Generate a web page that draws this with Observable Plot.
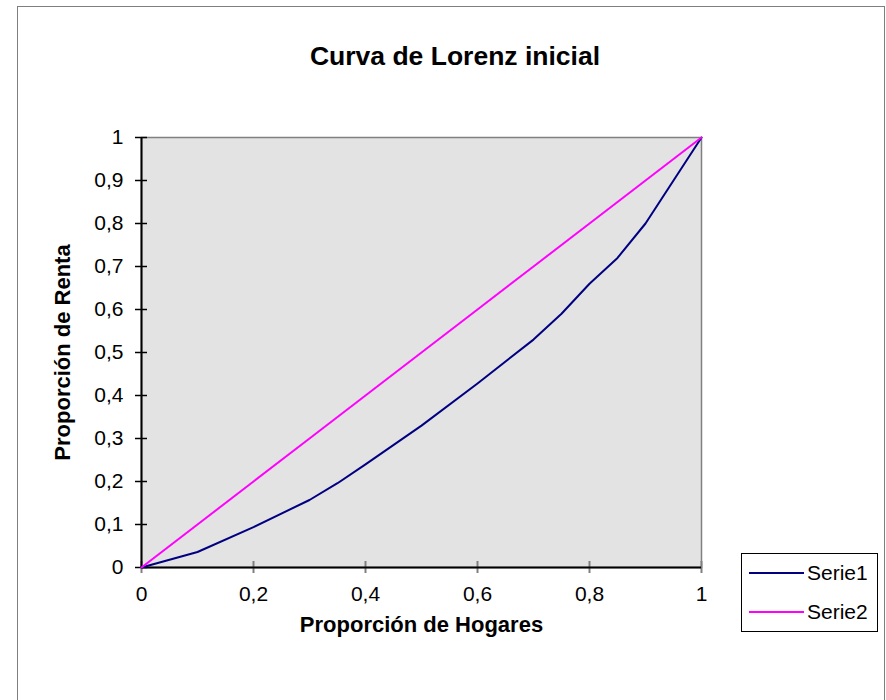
<!DOCTYPE html>
<html>
<head>
<meta charset="utf-8">
<script src="https://cdn.jsdelivr.net/npm/d3@7"></script>
<script src="https://cdn.jsdelivr.net/npm/@observablehq/plot@0.6"></script>
<style>
  body { margin: 0; background: #fff; font-family: "Liberation Sans", Arial, sans-serif; }
  #wrap { position: relative; width: 886px; height: 700px; overflow: hidden; }
  #border { position: absolute; left: 17px; top: 6px; width: 868px; height: 700px; border: 1px solid #7f7f7f; box-sizing: border-box; }
  #title { position: absolute; left: 21px; width: 868px; top: 41px; text-align: center; font-weight: bold; font-size: 26.5px; line-height: 30px; }
  #chart { position: absolute; left: 0; top: 0; }
  #legend { position: absolute; left: 741px; top: 553px; width: 137px; height: 79px; border: 1px solid #000; box-sizing: border-box; background: #fff; font-size: 21px; }
  .item { position: absolute; left: 7px; height: 24px; display: flex; align-items: center; }
  .sw { width: 55px; height: 2px; margin-right: 3px; }
</style>
</head>
<body>
<div id="wrap">
  <div id="border"></div>
  <div id="chart"></div>
  <div id="title">Curva de Lorenz inicial</div>
  <div id="legend"></div>
</div>
<script>
const hogares = [0, 0.1, 0.2, 0.3, 0.35, 0.4, 0.5, 0.6, 0.7, 0.75, 0.8, 0.85, 0.9, 1];
const serie1 = [0, 0.036, 0.094, 0.157, 0.196, 0.24, 0.33, 0.428, 0.53, 0.59, 0.66, 0.72, 0.80, 1];
const serie2X = [0, 0.1, 0.2, 0.3, 0.4, 0.5, 0.6, 0.7, 0.8, 0.9, 1];
const serie2 = [0, 0.1, 0.2, 0.3, 0.4, 0.5, 0.6, 0.7, 0.8, 0.9, 1];
const seriesNames = ["Serie1", "Serie2"];
const seriesColors = ["#000080", "#ff00ff"];
const xTicks = [0, 0.2, 0.4, 0.6, 0.8, 1];
const yTicks = [0, 0.1, 0.2, 0.3, 0.4, 0.5, 0.6, 0.7, 0.8, 0.9, 1];

const data = [
  ...hogares.map((x, i) => ({x, y: serie1[i], s: seriesNames[0]})),
  ...serie2X.map((x, i) => ({x, y: serie2[i], s: seriesNames[1]}))
];
const fmt = d => String(+d.toFixed(1)).replace(".", ",");

const chart = Plot.plot({
  width: 886,
  height: 700,
  marginLeft: 141,
  marginRight: 185,
  marginTop: 137,
  marginBottom: 133,
  style: {fontFamily: "'Liberation Sans', Arial, sans-serif", fontSize: "21px", background: "transparent", color: "#000"},
  x: {domain: [0, 1]},
  y: {domain: [0, 1]},
  color: {domain: seriesNames, range: seriesColors},
  marks: [
    Plot.frame({fill: "#e3e3e3", stroke: "#808080", strokeWidth: 1.5}),
    Plot.axisX({ticks: xTicks, tickFormat: fmt, tickSize: 6, tickPadding: 13, fontSize: 21, stroke: "#808080", strokeOpacity: 1, strokeWidth: 2, fill: "#000",
      label: null}),
    Plot.axisX({ticks: xTicks, tickSize: -6, text: null, stroke: "#808080", strokeOpacity: 1, strokeWidth: 2,
      label: "Proporción de Hogares", labelAnchor: "center", labelArrow: "none", labelOffset: 64, fontSize: 22, fontWeight: "bold"}),
    Plot.axisY({ticks: yTicks, tickFormat: fmt, tickSize: 6, tickPadding: 12, fontSize: 21, strokeOpacity: 1, strokeWidth: 1.5,
      label: null}),
    Plot.axisY({ticks: yTicks, tickSize: -6, text: null, strokeOpacity: 1, strokeWidth: 1.5,
      label: "Proporción de Renta", labelAnchor: "center", labelArrow: "none", labelOffset: 87, fontSize: 22, fontWeight: "bold"}),
    Plot.ruleX([0], {stroke: "#000", strokeWidth: 2}),
    Plot.ruleY([0], {stroke: "#000", strokeWidth: 2}),
    Plot.line(data, {x: "x", y: "y", z: "s", stroke: "s", strokeWidth: 2})
  ]
});
document.getElementById("chart").appendChild(chart);

const legend = document.getElementById("legend");
seriesNames.forEach((name, i) => {
  const item = document.createElement("div");
  item.className = "item";
  item.style.top = (7 + i * 39) + "px";
  const sw = document.createElement("div");
  sw.className = "sw";
  sw.style.background = seriesColors[i];
  const label = document.createElement("span");
  label.textContent = name;
  item.appendChild(sw);
  item.appendChild(label);
  legend.appendChild(item);
});
</script>
</body>
</html>
